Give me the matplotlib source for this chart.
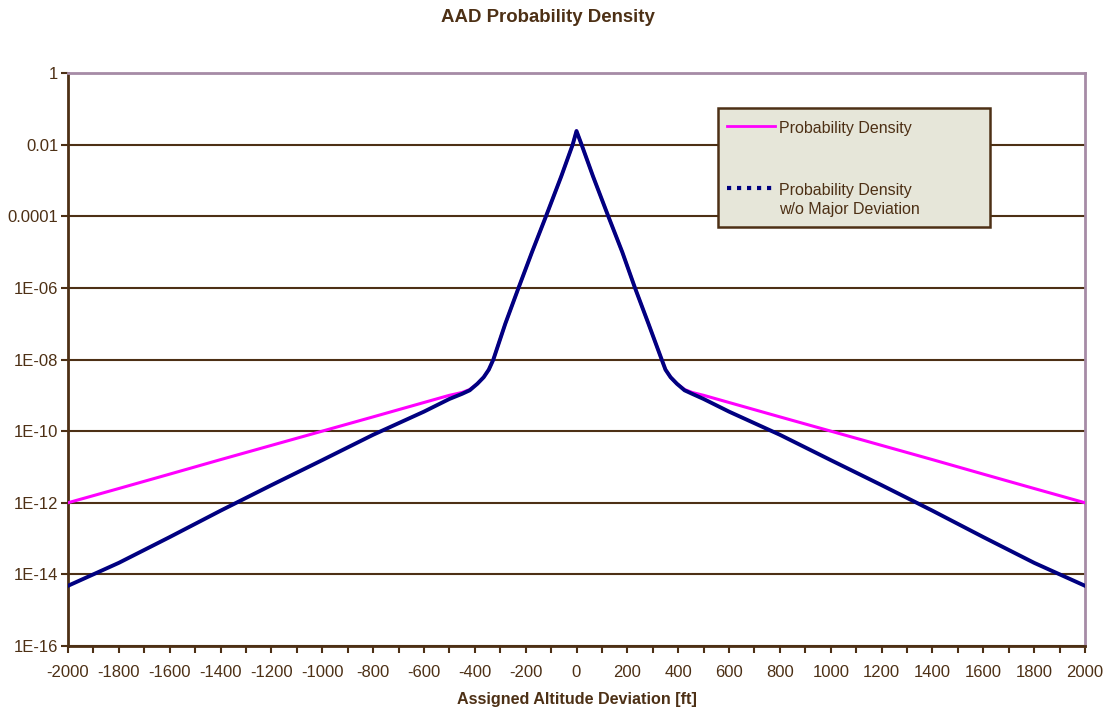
import matplotlib
matplotlib.use('Agg')
import matplotlib.pyplot as plt
from matplotlib.lines import Line2D
from matplotlib.patches import Rectangle
from matplotlib.ticker import FixedLocator, MultipleLocator

plt.rcParams['font.family'] = ['Liberation Sans', 'DejaVu Sans']

# deviation [ft]
deviation = [-2000, -1800, -1600, -1400, -1200, -1000, -800, -600, -500, -450,
             -420, -390, -365, -345, -327, -280, -228, -175, -120, -60, -15, 0,
             20, 65, 125, 180, 230, 283, 335, 350, 370, 395, 425,
             455, 500, 600, 800, 1000, 1200, 1400, 1600, 1800, 2000]

# probability density (all deviations)
density = [1.0e-12, 2.5e-12, 6.3e-12, 1.6e-11, 4.0e-11, 1.0e-10, 2.5e-10, 6.3e-10, 1.0e-09, 1.2e-09,
           1.45e-09, 2.1e-09, 3.2e-09, 5.2e-09, 1.0e-08, 1.0e-07, 1.0e-06, 1.0e-05, 1.0e-04, 1.3e-03, 1.0e-02, 2.4e-02,
           1.0e-02, 1.3e-03, 1.0e-04, 1.0e-05, 1.0e-06, 1.0e-07, 1.0e-08, 5.2e-09, 3.2e-09, 2.1e-09, 1.45e-09,
           1.2e-09, 1.0e-09, 6.3e-10, 2.5e-10, 1.0e-10, 4.0e-11, 1.6e-11, 6.3e-12, 2.5e-12, 1.0e-12]

# probability density without major deviation
density_no_major = [4.8e-15, 2.1e-14, 1.1e-13, 6.0e-13, 3.1e-12, 1.55e-11, 7.9e-11, 3.5e-10, 7.9e-10, 1.1e-09,
                    1.38e-09, 2.1e-09, 3.2e-09, 5.2e-09, 1.0e-08, 1.0e-07, 1.0e-06, 1.0e-05, 1.0e-04, 1.3e-03, 1.0e-02, 2.4e-02,
                    1.0e-02, 1.3e-03, 1.0e-04, 1.0e-05, 1.0e-06, 1.0e-07, 1.0e-08, 5.2e-09, 3.2e-09, 2.1e-09, 1.38e-09,
                    1.1e-09, 7.9e-10, 3.5e-10, 7.9e-11, 1.55e-11, 3.1e-12, 6.0e-13, 1.1e-13, 2.1e-14, 4.8e-15]

y_ticks = [1, 1e-2, 1e-4, 1e-6, 1e-8, 1e-10, 1e-12, 1e-14, 1e-16]
y_tick_labels = ['1', '0.01', '0.0001', '1E-06', '1E-08', '1E-10', '1E-12', '1E-14', '1E-16']
x_ticks = list(range(-2000, 2001, 200))
legend_labels = ['Probability Density', 'Probability Density\nw/o Major Deviation']

brown = '#4D3015'
frame_col = '#A68BA6'
magenta = '#FF00FF'
navy = '#000080'

W, H = 1107, 712
L, R, T, B = 68, 1085, 73, 646


def ax_frac(px, py):
    # pixel position in the figure -> axes fraction
    return (px - L) / (R - L), (B - py) / (B - T)


fig = plt.figure(figsize=(W / 100, H / 100), dpi=100)
ax = fig.add_axes([L / W, 1 - B / H, (R - L) / W, (B - T) / H])

ax.plot(deviation, density, color=magenta, lw=2.2, zorder=3)
ax.plot(deviation, density_no_major, color=navy, lw=2.8, zorder=4)

ax.set_yscale('log')
ax.set_ylim(1e-16, 1)
ax.set_xlim(-2000, 2000)

ax.yaxis.set_major_locator(FixedLocator(y_ticks))
ax.yaxis.set_minor_locator(FixedLocator([]))
ax.set_yticklabels(y_tick_labels, fontsize=12, color=brown)
ax.set_xticks(x_ticks)
ax.set_xticklabels([str(v) for v in x_ticks], fontsize=12, color=brown)
ax.xaxis.set_minor_locator(MultipleLocator(100))

ax.tick_params(axis='both', which='both', direction='out', color=brown, width=1.5)
ax.tick_params(axis='y', length=5, pad=2)
ax.tick_params(axis='x', which='major', length=5, pad=9)
ax.tick_params(axis='x', which='minor', length=5)

ax.grid(axis='y', which='major', color=brown, lw=1.5)
ax.set_axisbelow(True)

for side in ['left', 'bottom']:
    ax.spines[side].set_color(brown)
    ax.spines[side].set_linewidth(2)
for side in ['top', 'right']:
    ax.spines[side].set_color(frame_col)
    ax.spines[side].set_linewidth(2)

ax.set_xlabel('Assigned Altitude Deviation [ft]', fontsize=11.6, fontweight='bold', color=brown, labelpad=8)
fig.suptitle('AAD Probability Density', fontsize=13.4, fontweight='bold', color=brown, x=0.495, y=0.988)

# legend box, drawn by hand to get Excel's roomy layout
x0, y0 = ax_frac(718, 227)
x1, y1 = ax_frac(990, 108)
ax.add_patch(Rectangle((x0, y0), x1 - x0, y1 - y0, transform=ax.transAxes,
                       facecolor='#E6E6D9', edgecolor=brown, lw=1.8, zorder=6))

hx0, _ = ax_frac(727, 0)
hx1, _ = ax_frac(775, 0)
tx, _ = ax_frac(779, 0)
_, ly1 = ax_frac(0, 126)
_, ly2 = ax_frac(0, 188)
_, ty1 = ax_frac(0, 129)
_, ty2 = ax_frac(0, 200)
ax.add_line(Line2D([hx0, hx1], [ly1, ly1], transform=ax.transAxes, color=magenta, lw=2, zorder=7))
ax.add_line(Line2D([hx0, hx1], [ly2, ly2], transform=ax.transAxes, color=navy, lw=3,
                   linestyle=(0, (1.0, 1.4)), zorder=7))
ax.text(tx, ty1, legend_labels[0], transform=ax.transAxes, fontsize=11.5, color=brown,
        va='center', ha='left', zorder=8)
ax.text(tx, ty2, legend_labels[1], transform=ax.transAxes, fontsize=11.5, color=brown,
        va='center', ha='left', linespacing=1.3, zorder=8)

fig.savefig('out.png', dpi=100)
